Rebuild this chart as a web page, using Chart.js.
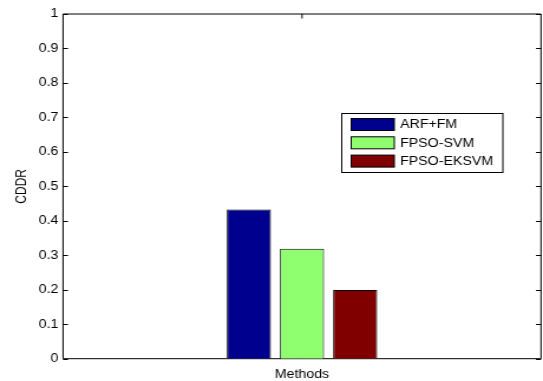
<!DOCTYPE html>
<html>
<head>
<meta charset="utf-8">
<script src="https://cdn.jsdelivr.net/npm/chart.js@4/dist/chart.umd.min.js"></script>
<style>
  html, body { margin: 0; padding: 0; background: #fff; overflow: hidden; }
  #wrap { width: 460px; height: 381px; transform: scaleX(1.1804); transform-origin: 0 0; }
  canvas { display: block; }
</style>
</head>
<body>
<div id="wrap"><canvas id="c" width="460" height="381" style="width:460px;height:381px"></canvas></div>
<script>
// One group of bars on the "Methods" axis
const categories = [''];
const seriesNames = ['ARF+FM', 'FPSO-SVM', 'FPSO-EKSVM'];
const arfFm = [0.433];
const fpsoSvm = [0.319];
const fpsoEksvm = [0.199];
const yTickMin = 0;
const yTickMax = 1;
const yTickStep = 0.1;

const seriesValues = [arfFm, fpsoSvm, fpsoEksvm];
const seriesColors = ['#00008F', '#8FFF70', '#800000'];
const FONT = '"Liberation Sans", Arial, Helvetica, sans-serif';

// Box around the axes with inward tick marks
const axesFrame = {
  id: 'axesFrame',
  beforeDatasetsDraw(chart) {
    const { ctx, chartArea: a, scales } = chart;
    ctx.save();
    ctx.strokeStyle = '#000';
    ctx.lineWidth = 1;
    ctx.beginPath();
    ctx.rect(a.left, a.top, a.right - a.left, a.bottom - a.top);
    ctx.stroke();
    const y = scales.y;
    ctx.beginPath();
    y.ticks.forEach(t => {
      const py = Math.round(y.getPixelForValue(t.value)) + 0.5;
      ctx.moveTo(a.left, py); ctx.lineTo(a.left + 4.2, py);
      ctx.moveTo(a.right, py); ctx.lineTo(a.right - 4.2, py);
    });
    const x = scales.x;
    categories.forEach((c, i) => {
      const px = x.getPixelForValue(i);
      ctx.moveTo(px, a.top); ctx.lineTo(px, a.top + 4.5);
      ctx.moveTo(px, a.bottom); ctx.lineTo(px, a.bottom - 4.5);
    });
    ctx.stroke();
    ctx.restore();
  }
};

// Boxed legend inside the plot area
const boxedLegend = {
  id: 'boxedLegend',
  afterDraw(chart) {
    const { ctx } = chart;
    const bx = 289.5, by = 113.5, bw = 136.5, bh = 59;
    ctx.save();
    ctx.fillStyle = '#fff';
    ctx.fillRect(bx, by, bw, bh);
    ctx.strokeStyle = '#000';
    ctx.lineWidth = 1;
    ctx.strokeRect(bx, by, bw, bh);
    ctx.font = '12px ' + FONT;
    ctx.textBaseline = 'middle';
    ctx.textAlign = 'left';
    chart.data.datasets.forEach((ds, i) => {
      const sy = 118.5 + i * 18.3;
      ctx.fillStyle = ds.backgroundColor;
      ctx.fillRect(297.5, sy, 36.5, 12);
      ctx.strokeStyle = '#000';
      ctx.strokeRect(297.5, sy, 36.5, 12);
      ctx.fillStyle = '#000';
      ctx.fillText(ds.label, 339, sy + 6.5);
    });
    ctx.restore();
  }
};

new Chart(document.getElementById('c'), {
  type: 'bar',
  data: {
    labels: categories,
    datasets: seriesNames.map((name, i) => ({
      label: name,
      data: seriesValues[i],
      backgroundColor: seriesColors[i],
      borderColor: '#000',
      borderWidth: 1,
      categoryPercentage: 0.3335,
      barPercentage: 0.83
    }))
  },
  options: {
    responsive: false,
    devicePixelRatio: 1,
    animation: false,
    layout: { padding: { left: 0, top: 14, right: 1.7, bottom: 0 } },
    plugins: { legend: { display: false }, tooltip: { enabled: false } },
    scales: {
      x: {
        grid: { display: false, drawTicks: false },
        border: { display: false },
        ticks: { display: false },
        title: {
          display: true, text: 'Methods', color: '#000',
          font: { family: FONT, size: 12, lineHeight: 1 },
          padding: { top: 0, bottom: 0 }
        },
        afterFit(scale) { scale.height = 22.3; }
      },
      y: {
        min: yTickMin, max: yTickMax,
        grid: { display: false, drawTicks: false },
        border: { display: false },
        ticks: {
          stepSize: yTickStep, color: '#000', padding: 4,
          font: { family: FONT, size: 12 },
          callback: v => String(Number(v.toFixed(1)))
        },
        title: {
          display: true, text: 'CDDR', color: '#000',
          font: { family: FONT, size: 12 },
          padding: { top: 11, bottom: 0 }
        },
        afterFit(scale) { scale.width = 53.4; }
      }
    }
  },
  plugins: [axesFrame, boxedLegend]
});
</script>
</body>
</html>
